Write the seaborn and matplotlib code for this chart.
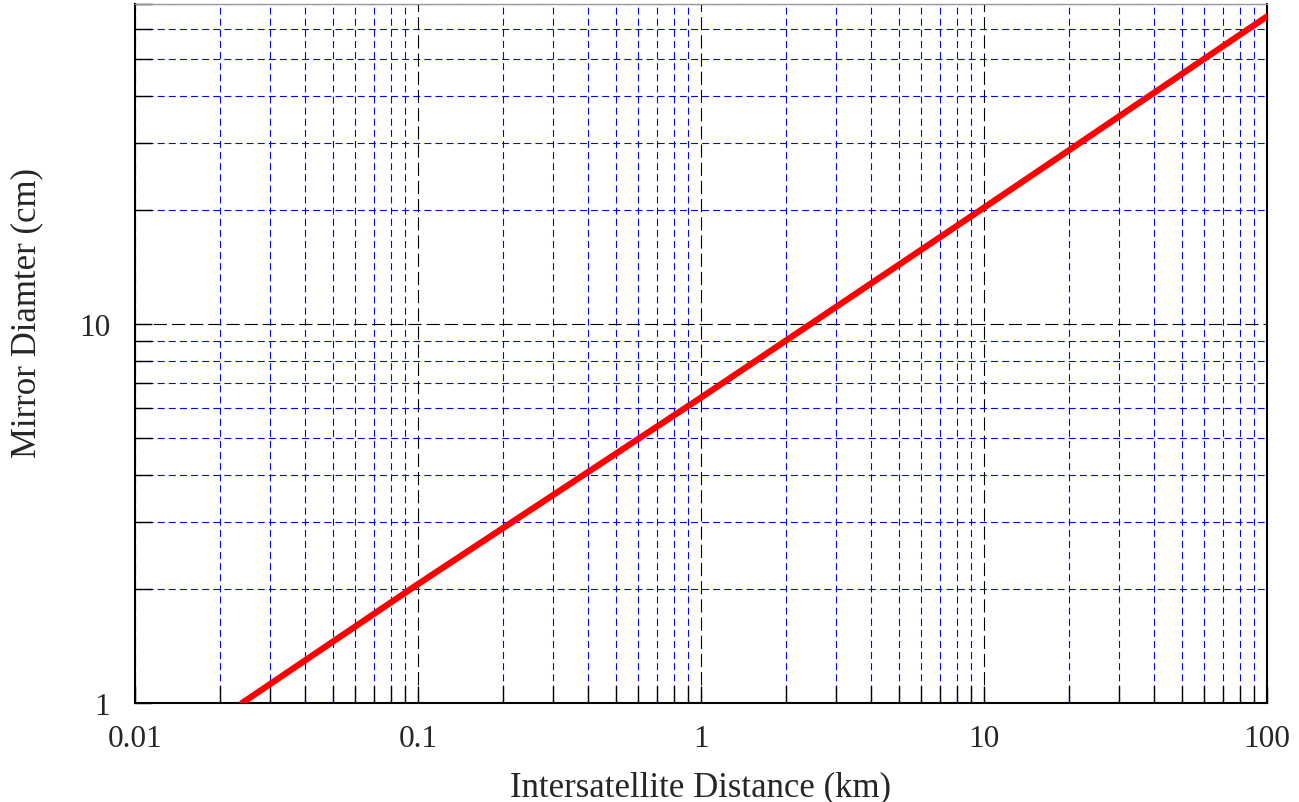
import matplotlib
matplotlib.use("Agg")
import matplotlib.pyplot as plt
import seaborn as sns
import pandas as pd
import numpy as np
from matplotlib.ticker import FixedLocator, LogLocator, NullFormatter, FixedFormatter

# Data
distance_km = [0.0239, 0.1, 1.0, 10.0, 100.0]
diameter_cm = [1.0, 2.06, 6.4, 20.3, 64.9]

x_ticks = [0.01, 0.1, 1, 10, 100]
x_tick_labels = ["0.01", "0.1", "1", "10", "100"]
y_ticks = [1, 10]
y_tick_labels = ["1", "10"]

sns.set_theme(style="white")
plt.rcParams['font.family'] = ['Liberation Serif', 'DejaVu Serif']
plt.rcParams['lines.scale_dashes'] = False

df = pd.DataFrame({"x": distance_km, "y": diameter_cm})

fig = plt.figure(figsize=(12.99, 8.03), dpi=100)
ax = fig.add_axes([135/1299, 1 - 704/803, (1267-135)/1299, (704-5)/803])

ax.set_xscale("log")
ax.set_yscale("log")
ax.set_xlim(0.01, 100)
ax.set_ylim(1, 70)

sns.lineplot(data=df, x="x", y="y", ax=ax, color="#ff0000", linewidth=4.5,
             solid_capstyle="round", zorder=5)

ax.xaxis.set_major_locator(FixedLocator(x_ticks))
ax.xaxis.set_major_formatter(FixedFormatter(x_tick_labels))
ax.yaxis.set_major_locator(FixedLocator(y_ticks))
ax.yaxis.set_major_formatter(FixedFormatter(y_tick_labels))
ax.xaxis.set_minor_locator(LogLocator(base=10, subs=np.arange(2, 10)))
ax.yaxis.set_minor_locator(LogLocator(base=10, subs=np.arange(2, 10)))
ax.xaxis.set_minor_formatter(NullFormatter())
ax.yaxis.set_minor_formatter(NullFormatter())

ax.grid(True, which="minor", color="#0000ff", linewidth=0.8,
        linestyle=(0, (5, 3)), zorder=1)
ax.grid(True, which="major", color="#000000", linewidth=0.8,
        linestyle=(0, (9.5, 3.6)), zorder=2)
ax.set_axisbelow(True)

ax.tick_params(axis="both", which="both", direction="in", length=12, width=1,
               color="black", bottom=True, left=True, top=False, right=False)
ax.tick_params(axis="x", which="major", labelsize=22.5, pad=15)
ax.tick_params(axis="y", which="major", labelsize=22.5, pad=18)

for s in ["left", "bottom", "right"]:
    ax.spines[s].set_color("black")
    ax.spines[s].set_linewidth(1.5)
ax.spines["top"].set_color("#999999")
ax.spines["top"].set_linewidth(1.0)

ax.set_xlabel("Intersatellite Distance (km)", fontsize=25)
ax.set_ylabel("Mirror Diamter (cm)", fontsize=25)
ax.yaxis.set_label_coords(-0.081, 0.559)
ax.xaxis.set_label_coords(0.5, -0.096)

fig.savefig("out.png", dpi=100)
